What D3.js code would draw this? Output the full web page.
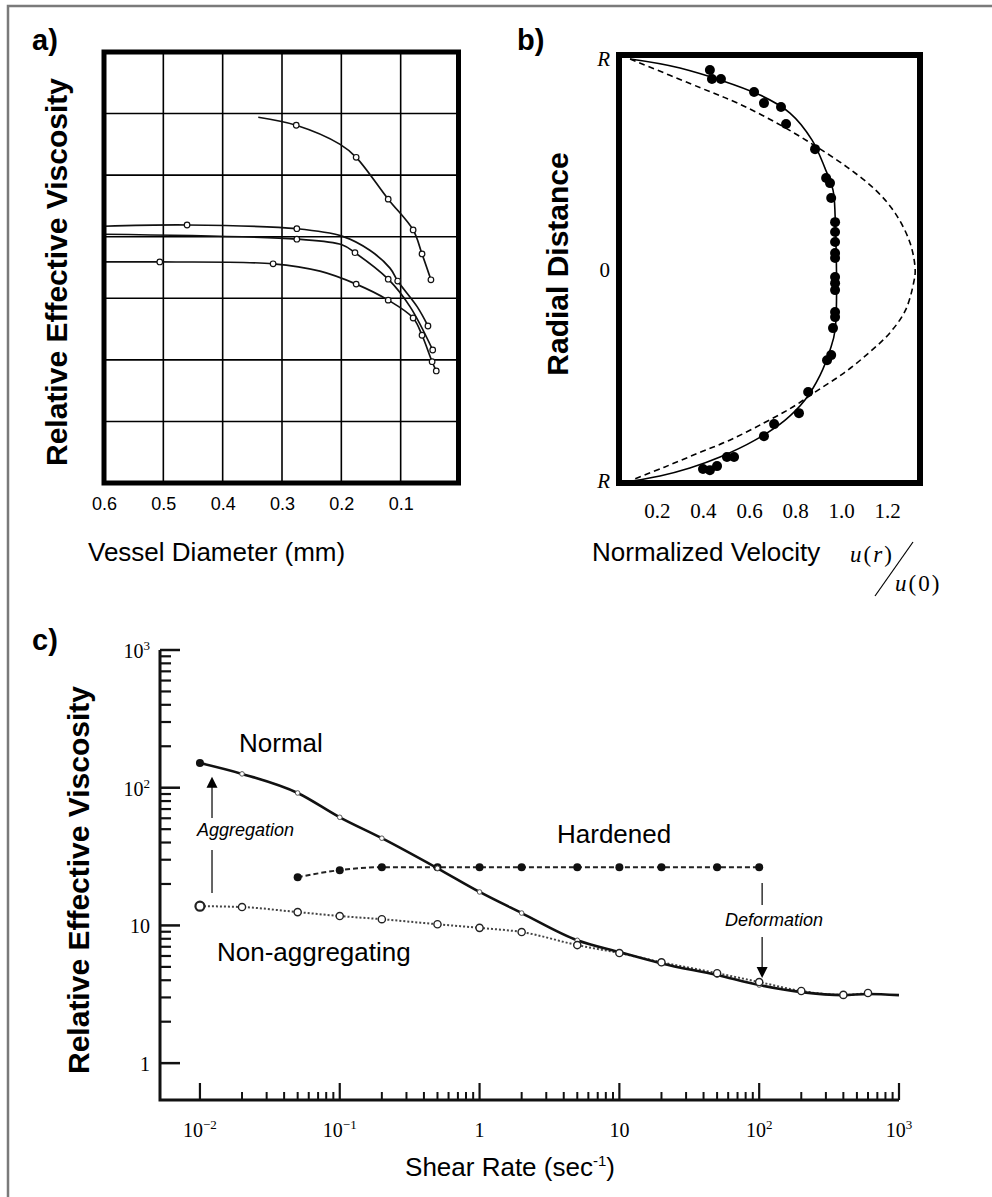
<!DOCTYPE html>
<html><head><meta charset="utf-8">
<script src="https://cdn.jsdelivr.net/npm/d3@7"></script>
<style>body{margin:0;background:#fff}svg{display:block}</style>
</head><body>
<svg id="c" width="992" height="1197"></svg>
<script>
// ---------- Panel a data ----------
const aTicks = [0.6, 0.5, 0.4, 0.3, 0.2, 0.1];
const aGridX = [0.5, 0.4, 0.3, 0.2, 0.1];
const aGridY = [1, 2, 3, 4, 5, 6];
const a1Diam = [0.340, 0.276, 0.202, 0.175, 0.121, 0.079, 0.064, 0.049];
const a1Visc = [5.94, 5.81, 5.50, 5.29, 4.61, 4.11, 3.72, 3.30];
const a1Mark = [0, 1, 0, 1, 1, 1, 1, 1];
const a2Diam = [0.6, 0.460, 0.275, 0.199, 0.152, 0.118, 0.105, 0.072, 0.054];
const a2Visc = [4.17, 4.19, 4.13, 4.01, 3.78, 3.49, 3.28, 2.86, 2.55];
const a2Mark = [0, 1, 1, 0, 0, 0, 1, 0, 1];
const a3Diam = [0.6, 0.275, 0.199, 0.177, 0.121, 0.084, 0.046];
const a3Visc = [4.04, 3.96, 3.87, 3.74, 3.31, 2.86, 2.16];
const a3Mark = [0, 1, 0, 1, 1, 0, 1];
const a4Diam = [0.6, 0.506, 0.315, 0.236, 0.175, 0.121, 0.079, 0.064, 0.047, 0.040];
const a4Visc = [3.59, 3.59, 3.56, 3.44, 3.23, 2.97, 2.68, 2.40, 1.97, 1.82];
const a4Mark = [0, 1, 1, 0, 1, 1, 1, 1, 1, 1];

// ---------- Panel b data ----------
const bTicks = [0.2, 0.4, 0.6, 0.8, 1.0, 1.2];
const bDashU = [0.083, 0.39, 0.55, 0.72, 0.882, 1.026, 1.150, 1.235, 1.300, 1.322, 1.315, 1.280, 1.211, 1.120, 1.012, 0.900, 0.790, 0.664, 0.516, 0.380, 0.232, 0.091];
const bDashR = [1.0, 0.863, 0.791, 0.697, 0.592, 0.488, 0.379, 0.270, 0.128, 0, -0.062, -0.190, -0.299, -0.393, -0.488, -0.569, -0.649, -0.725, -0.806, -0.867, -0.934, -0.995];
const bSolidU = [0.083, 0.30, 0.648, 0.778, 0.874, 0.930, 0.965, 0.974, 0.974, 0.952, 0.909, 0.843, 0.757, 0.626, 0.474, 0.343, 0.213, 0.091];
const bSolidR = [1.0, 0.957, 0.829, 0.744, 0.616, 0.483, 0.379, 0.261, -0.284, -0.379, -0.498, -0.616, -0.711, -0.806, -0.886, -0.938, -0.976, -1.0];
const bDotU = [0.430, 0.439, 0.478, 0.622, 0.665, 0.739, 0.761, 0.887, 0.935, 0.952, 0.957, 0.974, 0.974, 0.974, 0.974, 0.974, 0.974, 0.974, 0.974, 0.974, 0.974, 0.965, 0.957, 0.939, 0.857, 0.817, 0.709, 0.665, 0.535, 0.504, 0.461, 0.430, 0.400];
const bDotR = [0.948, 0.905, 0.905, 0.844, 0.791, 0.773, 0.692, 0.573, 0.436, 0.412, 0.341, 0.227, 0.180, 0.133, 0.081, 0.057, -0.033, -0.062, -0.095, -0.199, -0.223, -0.275, -0.403, -0.427, -0.578, -0.678, -0.730, -0.787, -0.886, -0.886, -0.929, -0.948, -0.943];

// ---------- Panel c data ----------
const cXMajor = [0.01, 0.1, 1, 10, 100, 1000];
const cXLabels = [["10", "\u22122"], ["10", "\u22121"], ["1", ""], ["10", ""], ["10", "2"], ["10", "3"]];
const cYMajor = [1, 10, 100, 1000];
const cYLabels = [["1", ""], ["10", ""], ["10", "2"], ["10", "3"]];
const cNormalShear = [0.01, 0.02, 0.05, 0.1, 0.2, 0.5, 1, 2, 5, 10, 20, 50, 100, 200, 400, 600, 1000];
const cNormal = [151, 126, 91.6, 61, 43, 26, 17.5, 12.3, 7.8, 6.4, 5.3, 4.36, 3.69, 3.28, 3.12, 3.18, 3.12];
const cNonAggShear = [0.01, 0.02, 0.05, 0.1, 0.2, 0.5, 1, 2, 5, 10, 20, 50, 100, 200, 400, 600];
const cNonAgg = [13.8, 13.6, 12.5, 11.7, 11.1, 10.2, 9.6, 8.95, 7.2, 6.3, 5.4, 4.5, 3.88, 3.34, 3.13, 3.23];
const cHardShear = [0.05, 0.1, 0.2, 0.5, 1, 2, 5, 10, 20, 50, 100];
const cHard = [22.4, 25.2, 26.5, 26.5, 26.5, 26.5, 26.5, 26.5, 26.5, 26.5, 26.5];

const SANS = "'Liberation Sans', Arial, sans-serif";
const SERIF = "'Liberation Serif', 'Times New Roman', serif";
const svg = d3.select("#c");
svg.append("rect").attr("width", 992).attr("height", 1197).attr("fill", "#fff");

// outer frame
svg.append("path").attr("d", "M8,1197 L8,6 L992,6").attr("fill", "none")
  .attr("stroke", "#7a7a7a").attr("stroke-width", 2.5);

function panelLabel(t, x, y) {
  svg.append("text").attr("x", x).attr("y", y).text(t)
    .attr("font-family", SANS).attr("font-weight", "bold").attr("font-size", 29);
}
function vLabel(t, x, y) {
  svg.append("text").attr("transform", `translate(${x},${y}) rotate(-90)`)
    .attr("text-anchor", "middle").attr("dominant-baseline", "central")
    .attr("font-family", SANS).attr("font-weight", "bold").attr("font-size", 30).text(t);
}

// ================= Panel a =================
panelLabel("a)", 32, 50);
const ax = d3.scaleLinear().domain([0.6, 0]).range([104, 460]);
const ay = d3.scaleLinear().domain([0, 7]).range([483, 52]);
const ga = svg.append("g");
ga.selectAll(".gx").data(aGridX).join("line")
  .attr("x1", d => ax(d)).attr("x2", d => ax(d)).attr("y1", ay(0)).attr("y2", ay(7))
  .attr("stroke", "#000").attr("stroke-width", 1.6);
ga.selectAll(".gy").data(aGridY).join("line")
  .attr("y1", d => ay(d)).attr("y2", d => ay(d)).attr("x1", ax(0.6)).attr("x2", ax(0))
  .attr("stroke", "#000").attr("stroke-width", 1.6);
const aCurves = [[a1Diam, a1Visc, a1Mark], [a2Diam, a2Visc, a2Mark], [a3Diam, a3Visc, a3Mark], [a4Diam, a4Visc, a4Mark]];
const aLine = d3.line().x(d => ax(d[0])).y(d => ay(d[1])).curve(d3.curveCatmullRom.alpha(0.5));
aCurves.forEach(([dd, vv, mm]) => {
  const pts = dd.map((d, i) => [d, vv[i], mm[i]]);
  ga.append("path").attr("d", aLine(pts)).attr("fill", "none").attr("stroke", "#111").attr("stroke-width", 1.7);
  ga.selectAll(null).data(pts.filter(p => p[2])).join("circle")
    .attr("cx", p => ax(p[0])).attr("cy", p => ay(p[1])).attr("r", 2.8)
    .attr("fill", "#fff").attr("stroke", "#111").attr("stroke-width", 1.2);
});
ga.append("rect").attr("x", ax(0.6)).attr("y", ay(7)).attr("width", ax(0) - ax(0.6) - 1.5).attr("height", ay(0) - ay(7))
  .attr("fill", "none").attr("stroke", "#000").attr("stroke-width", 5);
const aAxis = d3.axisBottom(ax).tickValues(aTicks).tickSize(0).tickPadding(12).tickFormat(d3.format(".1f"));
const aAx = svg.append("g").attr("transform", `translate(0,${ay(0) + 2})`).call(aAxis);
aAx.select(".domain").remove();
aAx.selectAll("text").attr("font-family", SANS).attr("font-size", 18).attr("fill", "#000");
svg.append("text").attr("x", 88).attr("y", 561).text("Vessel Diameter (mm)")
  .attr("font-family", SANS).attr("font-size", 26);
vLabel("Relative Effective Viscosity", 56, 272);

// ================= Panel b =================
panelLabel("b)", 517, 50);
const bx = d3.scaleLinear().domain([0.035, 1.343]).range([619, 920]);
const by = d3.scaleLinear().domain([-1.009, 1.019]).range([483, 55]);
const gb = svg.append("g");
const bLine = d3.line().x(d => bx(d[0])).y(d => by(d[1])).curve(d3.curveCatmullRom.alpha(0.5));
gb.append("path").attr("d", bLine(bDashU.map((u, i) => [u, bDashR[i]])))
  .attr("fill", "none").attr("stroke", "#000").attr("stroke-width", 1.6).attr("stroke-dasharray", "6,4");
gb.append("path").attr("d", bLine(bSolidU.map((u, i) => [u, bSolidR[i]])))
  .attr("fill", "none").attr("stroke", "#000").attr("stroke-width", 1.6);
gb.selectAll(".dot").data(bDotU.map((u, i) => [u, bDotR[i]])).join("circle")
  .attr("cx", d => bx(d[0])).attr("cy", d => by(d[1])).attr("r", 5).attr("fill", "#000");
gb.append("rect").attr("x", 619).attr("y", 55).attr("width", 301).attr("height", 428)
  .attr("fill", "none").attr("stroke", "#000").attr("stroke-width", 6);
const bAxis = d3.axisBottom(bx).tickValues(bTicks).tickSize(0).tickPadding(20).tickFormat(d3.format(".1f"));
const bAx = svg.append("g").attr("transform", `translate(0,${by(-1.009)})`).call(bAxis);
bAx.select(".domain").remove();
bAx.selectAll("text").attr("font-family", SERIF).attr("font-size", 21).attr("fill", "#000");
const bYLabels = [[1, "R", "italic"], [0, "0", "normal"], [-1, "R", "italic"]];
svg.selectAll(".by").data(bYLabels).join("text")
  .attr("x", 610).attr("y", d => by(d[0]) + 7).attr("text-anchor", "end")
  .attr("font-family", SERIF).attr("font-size", 21).attr("font-style", d => d[2]).text(d => d[1]);
svg.append("text").attr("x", 592).attr("y", 561).text("Normalized Velocity")
  .attr("font-family", SANS).attr("font-size", 26);
const f1 = svg.append("text").attr("x", 850).attr("y", 562).attr("font-family", SERIF).attr("font-size", 23).attr("letter-spacing", 2);
f1.append("tspan").attr("font-style", "italic").text("u");
f1.append("tspan").text("(");
f1.append("tspan").attr("font-style", "italic").text("r");
f1.append("tspan").text(")");
svg.append("line").attr("x1", 875).attr("y1", 596).attr("x2", 913).attr("y2", 542).attr("stroke", "#000").attr("stroke-width", 1.2);
const f2 = svg.append("text").attr("x", 895).attr("y", 591).attr("font-family", SERIF).attr("font-size", 23).attr("letter-spacing", 2);
f2.append("tspan").attr("font-style", "italic").text("u");
f2.append("tspan").text("(0)");
vLabel("Radial Distance", 557, 264);

// ================= Panel c =================
panelLabel("c)", 32, 650);
const cx = d3.scaleLog().domain([0.00518, 1000]).range([160, 899]);
const cy = d3.scaleLog().domain([0.54, 1000]).range([1100, 650]);
const gc = svg.append("g");
const xMinor = [];
[0.01, 0.1, 1, 10, 100].forEach(b => { for (let k = 2; k <= 9; k++) xMinor.push(b * k); });
const yMinor = [];
[1, 10, 100].forEach(b => { for (let k = 2; k <= 9; k++) yMinor.push(b * k); });
gc.selectAll(".xmin").data(xMinor).join("line")
  .attr("x1", d => cx(d)).attr("x2", d => cx(d)).attr("y1", 1100).attr("y2", 1092)
  .attr("stroke", "#111").attr("stroke-width", 2);
gc.selectAll(".xmaj").data(cXMajor).join("line")
  .attr("x1", d => cx(d)).attr("x2", d => cx(d)).attr("y1", 1100).attr("y2", 1083)
  .attr("stroke", "#111").attr("stroke-width", 2.2);
gc.selectAll(".ymin").data(yMinor).join("line")
  .attr("y1", d => cy(d)).attr("y2", d => cy(d)).attr("x1", 160).attr("x2", 171)
  .attr("stroke", "#111").attr("stroke-width", 2.2);
gc.selectAll(".ymaj").data(cYMajor).join("line")
  .attr("y1", d => cy(d)).attr("y2", d => cy(d)).attr("x1", 160).attr("x2", 180)
  .attr("stroke", "#111").attr("stroke-width", 2.5);
gc.append("path").attr("d", `M${cx(0.00518)},${cy(1000)} L${cx(0.00518)},${cy(0.54)} L${cx(1000)},${cy(0.54)}`)
  .attr("fill", "none").attr("stroke", "#111").attr("stroke-width", 3);
const xl = gc.selectAll(".xl").data(cXMajor.map((v, i) => [v, cXLabels[i]])).join("text")
  .attr("x", d => cx(d[0])).attr("y", 1137).attr("text-anchor", "middle")
  .attr("font-family", SERIF).attr("font-size", 20);
xl.append("tspan").text(d => d[1][0]);
xl.append("tspan").attr("dy", -8).attr("font-size", 13).text(d => d[1][1]);
const yl = gc.selectAll(".yl").data(cYMajor.map((v, i) => [v, cYLabels[i]])).join("text")
  .attr("x", 150).attr("y", d => cy(d[0]) + 8).attr("text-anchor", "end")
  .attr("font-family", SERIF).attr("font-size", 20);
yl.append("tspan").text(d => d[1][0]);
yl.append("tspan").attr("dy", -8).attr("font-size", 13).text(d => d[1][1]);

const cLine = d3.line().x(d => cx(d[0])).y(d => cy(d[1])).curve(d3.curveMonotoneX);
const hardPts = cHardShear.map((s, i) => [s, cHard[i]]);
const nonPts = cNonAggShear.map((s, i) => [s, cNonAgg[i]]);
const normPts = cNormalShear.map((s, i) => [s, cNormal[i]]);
gc.append("path").attr("d", cLine(hardPts)).attr("fill", "none").attr("stroke", "#222")
  .attr("stroke-width", 2).attr("stroke-dasharray", "5,3");
gc.selectAll(".hd").data(hardPts).join("circle").attr("cx", d => cx(d[0])).attr("cy", d => cy(d[1]))
  .attr("r", 4).attr("fill", "#111");
gc.append("path").attr("d", cLine(nonPts)).attr("fill", "none").attr("stroke", "#444")
  .attr("stroke-width", 2).attr("stroke-dasharray", "2,2");
gc.append("path").attr("d", cLine(normPts)).attr("fill", "none").attr("stroke", "#111").attr("stroke-width", 2.6);
gc.selectAll(".nm").data(normPts.slice(1, -1)).join("circle").attr("cx", d => cx(d[0])).attr("cy", d => cy(d[1]))
  .attr("r", 2.3).attr("fill", "#fff").attr("stroke", "#555").attr("stroke-width", 1);
gc.append("circle").attr("cx", cx(normPts[0][0])).attr("cy", cy(normPts[0][1])).attr("r", 4).attr("fill", "#111");
gc.selectAll(".na").data(nonPts).join("circle").attr("cx", d => cx(d[0])).attr("cy", d => cy(d[1]))
  .attr("r", (d, i) => i === 0 ? 4.5 : 3.6).attr("fill", "#fff").attr("stroke", "#222")
  .attr("stroke-width", (d, i) => i === 0 ? 2.2 : 1.4);

const cTxt = (t, x, y, size, style) => gc.append("text").attr("x", x).attr("y", y).text(t)
  .attr("font-family", SANS).attr("font-size", size).attr("font-style", style || "normal");
cTxt("Normal", 239, 752, 26);
cTxt("Hardened", 557, 843, 26);
cTxt("Non-aggregating", 217, 961, 26);
cTxt("Aggregation", 197, 836, 18, "italic");
cTxt("Deformation", 725, 926, 18, "italic");
const aggX = cx(0.0122), defX = cx(105);
gc.append("line").attr("x1", aggX).attr("x2", aggX).attr("y1", cy(17.2)).attr("y2", 850).attr("stroke", "#333").attr("stroke-width", 1.5);
gc.append("line").attr("x1", aggX).attr("x2", aggX).attr("y1", 818).attr("y2", cy(120) + 8).attr("stroke", "#333").attr("stroke-width", 1.5);
gc.append("path").attr("d", `M${aggX},${cy(120)} l-5.5,11 l11,0 z`).attr("fill", "#000");
gc.append("line").attr("x1", defX).attr("x2", defX).attr("y1", cy(20.3)).attr("y2", 905).attr("stroke", "#333").attr("stroke-width", 1.5);
gc.append("line").attr("x1", defX).attr("x2", defX).attr("y1", 937).attr("y2", cy(4.15) - 8).attr("stroke", "#333").attr("stroke-width", 1.5);
gc.append("path").attr("d", `M${defX},${cy(4.15)} l-5.5,-11 l11,0 z`).attr("fill", "#000");

const st = svg.append("text").attr("x", 510).attr("y", 1176).attr("text-anchor", "middle")
  .attr("font-family", SANS).attr("font-size", 26);
st.append("tspan").text("Shear Rate (sec");
st.append("tspan").attr("dy", -10).attr("font-size", 15).text("-1");
st.append("tspan").attr("dy", 10).text(")");
vLabel("Relative Effective Viscosity", 78, 880);
</script>
</body></html>
